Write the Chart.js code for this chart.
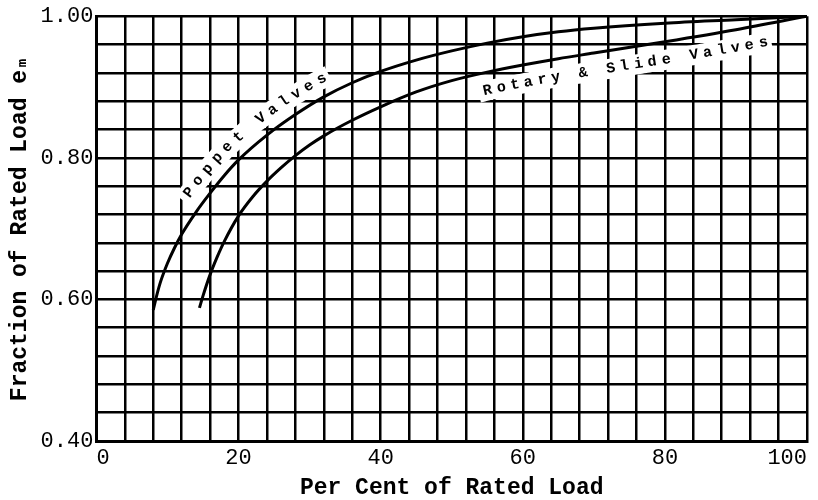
<!DOCTYPE html>
<html>
<head>
<meta charset="utf-8">
<script src="https://cdn.jsdelivr.net/npm/chart.js@4/dist/chart.umd.min.js"></script>
<style>
  html, body { margin: 0; padding: 0; background: #fff; }
</style>
</head>
<body>
<canvas id="myChart" width="818" height="500"></canvas>
<script>
// load (per cent of rated) vs fraction of rated-load efficiency
const poppetLoad = [8, 8.5, 9, 10, 11, 12, 14, 16, 18, 20, 24, 28, 32, 36, 40, 45, 50, 55, 60, 65, 70, 80, 90, 100];
const poppetEff = [0.585, 0.606, 0.624, 0.651, 0.673, 0.692, 0.723, 0.75, 0.775, 0.797, 0.832, 0.861, 0.886, 0.906, 0.922, 0.938, 0.951, 0.962, 0.971, 0.978, 0.983, 0.990, 0.995, 1.00];
const rotaryLoad = [14.5, 15, 16, 17, 18, 20, 22, 24, 26, 28, 30, 32, 36, 40, 45, 50, 55, 60, 65, 70, 80, 90, 100];
const rotaryEff = [0.588, 0.605, 0.635, 0.66, 0.682, 0.718, 0.745, 0.767, 0.786, 0.803, 0.818, 0.831, 0.853, 0.872, 0.893, 0.909, 0.921, 0.931, 0.940, 0.948, 0.964, 0.981, 1.00];
const xTickLabels = ['0', '20', '40', '60', '80', '100'];
const yTickLabels = ['0.40', '0.60', '0.80', '1.00'];

const mono = "'Liberation Mono', 'DejaVu Sans Mono', monospace";

function effAt(xs, ys, v) {
  if (v <= xs[0]) return ys[0];
  for (let i = 1; i < xs.length; i++) {
    if (v <= xs[i]) {
      const t = (v - xs[i - 1]) / (xs[i] - xs[i - 1]);
      return ys[i - 1] + t * (ys[i] - ys[i - 1]);
    }
  }
  return ys[ys.length - 1];
}

// writes a label letter by letter alongside a curve, on a white strip
function textAlong(chart, xs, ys, startLoad, text, gap, offset, side) {
  const sx = chart.scales.x, sy = chart.scales.y;
  const ctx = chart.ctx;
  const pts = [];
  for (let k = -30; startLoad + k * 0.1 <= 100; k++) {
    const v = startLoad + k * 0.1;
    pts.push({ x: sx.getPixelForValue(v), y: sy.getPixelForValue(effAt(xs, ys, Math.max(v, xs[0]))) });
  }
  const acc = [0];
  for (let i = 1; i < pts.length; i++) {
    acc.push(acc[i - 1] + Math.hypot(pts[i].x - pts[i - 1].x, pts[i].y - pts[i - 1].y));
  }
  const s0 = acc[30];
  const at = (s) => {
    let i = acc.findIndex(a => a >= s);
    if (i < 0) i = pts.length - 1;
    const a = pts[Math.max(0, i - 12)], b = pts[Math.min(pts.length - 1, i + 12)];
    const ang = Math.atan2(b.y - a.y, b.x - a.x);
    const p = pts[i];
    return { x: p.x + side * Math.sin(ang) * offset, y: p.y - side * Math.cos(ang) * offset, ang };
  };

  ctx.save();
  ctx.strokeStyle = '#fff';
  ctx.lineWidth = 20;
  ctx.beginPath();
  const sStart = s0 - gap * 0.7;
  const sEnd = s0 + (text.length - 1) * gap + gap * 0.7;
  for (let s = sStart; s <= sEnd; s += 2) {
    const q = at(s);
    if (s === sStart) ctx.moveTo(q.x, q.y); else ctx.lineTo(q.x, q.y);
  }
  ctx.stroke();

  ctx.fillStyle = '#000';
  ctx.font = 'bold 15px ' + mono;
  ctx.textAlign = 'center';
  ctx.textBaseline = 'middle';
  for (let i = 0; i < text.length; i++) {
    const q = at(s0 + i * gap);
    ctx.save();
    ctx.translate(q.x, q.y);
    ctx.rotate(q.ang);
    ctx.fillText(text[i], 0, 0);
    ctx.restore();
  }
  ctx.restore();
}

const curveLabels = {
  id: 'curveLabels',
  beforeDatasetsDraw(chart) {
    textAlong(chart, poppetLoad, poppetEff, 15, 'Poppet Valves', 14, 17, 1);
    textAlong(chart, rotaryLoad, rotaryEff, 54.5, 'Rotary & Slide Valves', 14, 18, -1);
  }
};

const ctx = document.getElementById('myChart').getContext('2d');

new Chart(ctx, {
  type: 'line',
  data: {
    datasets: [
      {
        label: 'Poppet Valves',
        data: poppetLoad.map((x, i) => ({ x: x, y: poppetEff[i] })),
        borderColor: '#000',
        borderWidth: 3,
        pointRadius: 0,
        cubicInterpolationMode: 'monotone',
        fill: false
      },
      {
        label: 'Rotary & Slide Valves',
        data: rotaryLoad.map((x, i) => ({ x: x, y: rotaryEff[i] })),
        borderColor: '#000',
        borderWidth: 3,
        pointRadius: 0,
        cubicInterpolationMode: 'monotone',
        fill: false
      }
    ]
  },
  options: {
    responsive: false,
    animation: false,
    layout: { padding: { top: 11, right: 11, bottom: 0, left: 2 } },
    plugins: {
      legend: { display: false },
      tooltip: { enabled: false }
    },
    scales: {
      x: {
        type: 'linear',
        min: 0,
        max: 100,
        border: { color: '#000', width: 3 },
        grid: { color: '#000', lineWidth: 2.5, drawTicks: false },
        ticks: {
          stepSize: 4,
          autoSkip: false,
          maxRotation: 0,
          align: 'inner',
          padding: 6,
          color: '#000',
          font: { family: mono, size: 22, lineHeight: 1 },
          callback: (v) => xTickLabels.find(l => Number(l) === v) || ''
        },
        title: {
          display: true,
          text: 'Per Cent of Rated Load',
          color: '#000',
          font: { family: mono, size: 23, weight: 'bold', lineHeight: 1 },
          padding: { top: 2, bottom: 0 }
        }
      },
      y: {
        type: 'linear',
        min: 0.4,
        max: 1.0,
        border: { color: '#000', width: 3 },
        grid: { color: '#000', lineWidth: 2.5, drawTicks: false },
        ticks: {
          stepSize: 0.04,
          autoSkip: false,
          padding: 3,
          color: '#000',
          font: { family: mono, size: 22 },
          callback: (v) => {
            const s = v.toFixed(2);
            return yTickLabels.includes(s) ? s : '';
          }
        },
        title: {
          display: true,
          text: 'Fraction of Rated Load eₘ',
          color: '#000',
          font: { family: mono, size: 23, weight: 'bold' },
          padding: { top: 4, bottom: 4 }
        }
      }
    }
  },
  plugins: [curveLabels]
});
</script>
</body>
</html>
